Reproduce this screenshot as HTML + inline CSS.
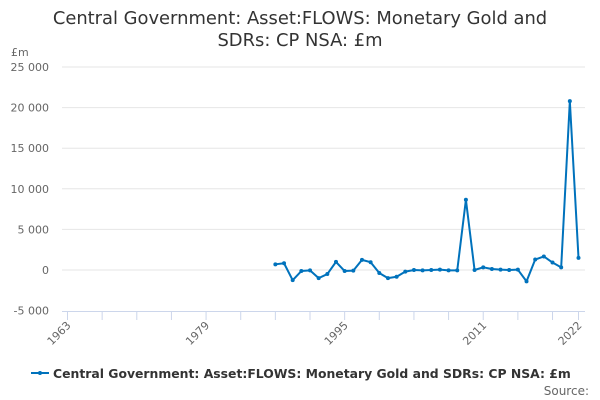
<!DOCTYPE html>
<html><head><meta charset="utf-8"><style>
body{margin:0;background:#fff;font-family:"DejaVu Sans","Liberation Sans",sans-serif;}
#wrap{position:relative;width:600px;height:400px;overflow:hidden;}
</style></head><body>
<div id="wrap">
<svg id="svg" width="600" height="400" font-family="DejaVu Sans, Liberation Sans, sans-serif">
<text x="300" y="24" text-anchor="middle" font-size="17.9" fill="#333">Central Government: Asset:FLOWS: Monetary Gold and</text>
<text x="300" y="46" text-anchor="middle" font-size="17.9" fill="#333">SDRs: CP NSA: £m</text>
<text x="11" y="56" font-size="11" fill="#666">£m</text>
<g id="grid"></g><g id="xaxis"></g><g id="series"></g>
<g>
<line x1="31" y1="373" x2="49" y2="373" stroke="#0072bc" stroke-width="2"/>
<circle cx="40" cy="373" r="2" fill="#0072bc"/>
<text x="53" y="378" font-size="12.4" font-weight="bold" fill="#333">Central Government: Asset:FLOWS: Monetary Gold and SDRs: CP NSA: £m</text>
</g>
<text x="589" y="395" text-anchor="end" font-size="12" fill="#666">Source:</text>
</svg></div>
<script>
const yTicks=[-5000,0,5000,10000,15000,20000,25000];
const xTickLabels=[1963,1979,1995,2011,2022];
const years=[1987,1988,1989,1990,1991,1992,1993,1994,1995,1996,1997,1998,1999,2000,2001,2002,2003,2004,2005,2006,2007,2008,2009,2010,2011,2012,2013,2014,2015,2016,2017,2018,2019,2020,2021,2022];
const values=[700,830,-1250,-125,-40,-1000,-500,1000,-125,-80,1250,960,-375,-1000,-830,-200,0,-40,0,40,-40,-40,8650,0,330,125,40,0,40,-1400,1290,1670,920,330,20800,1500];
const NS="http://www.w3.org/2000/svg";
const x0=67.5,x1=578.5,yr0=1963,yr1=2022;
const X=v=>x0+(v-yr0)*(x1-x0)/(yr1-yr0);
const Y=v=>270-v*(203/25000);
function mk(t,a,p){const e=document.createElementNS(NS,t);for(const k in a)e.setAttribute(k,a[k]);p.appendChild(e);return e;}
const grid=document.getElementById('grid'),xa=document.getElementById('xaxis'),se=document.getElementById('series');
yTicks.forEach(v=>{
 if(v>-5000){const l=mk('line',{x1:62,x2:585,y1:Y(v),y2:Y(v),stroke:'#e6e6e6','stroke-width':1},grid);
 
 }
 const t=mk('text',{x:49,y:Y(v)+4,'text-anchor':'end','font-size':11,fill:'#666'},grid);
 
 
 t.textContent=v.toLocaleString('en-US').replace(/,/g,' ');
});
const ax=mk('line',{x1:62,x2:585,y1:311.5,y2:311.5,stroke:'#ccd6eb'},xa);


for(let y=1963;y<=2022;y+=4){const l=mk('line',{x1:X(y),x2:X(y),y1:311,y2:320,stroke:'#ccd6eb'},xa);
 
 }
{const l=mk('line',{x1:X(2022),x2:X(2022),y1:311,y2:320,stroke:'#ccd6eb'},xa);
 
 }
xTickLabels.forEach(y=>{const t=mk('text',{x:X(y)+4,y:326,'text-anchor':'end','font-size':11,fill:'#666',transform:`rotate(-45 ${X(y)+4} 326)`},xa);
 
 
 t.textContent=y;});
const pts=years.map((y,i)=>X(y)+','+Y(values[i])).join(' ');
const pl=mk('polyline',{points:pts,fill:'none',stroke:'#0072bc','stroke-width':2,'stroke-linejoin':'round'},se);


years.forEach((y,i)=>{const c=mk('circle',{cx:X(y),cy:Y(values[i]),r:2,fill:'#0072bc'},se);
 
 });
</script></body></html>
